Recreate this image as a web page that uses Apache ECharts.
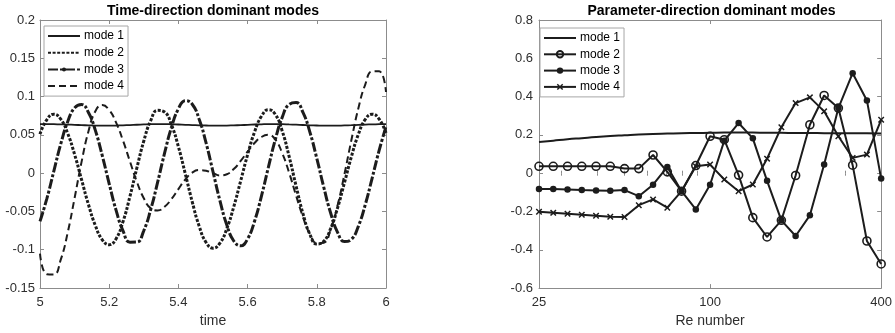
<!DOCTYPE html>
<html>
<head>
<meta charset="utf-8">
<script src="https://cdn.jsdelivr.net/npm/echarts@6/dist/echarts.min.js"></script>
<style>
html,body{margin:0;padding:0;background:#fff;}
#wrap{position:relative;width:895px;height:333px;overflow:hidden;}
#left{position:absolute;left:0;top:0;width:450px;height:333px;}
#right{position:absolute;left:450px;top:0;width:445px;height:333px;}
</style>
</head>
<body>
<div id="wrap"><div id="left"></div><div id="right"></div></div>
<script>
// ---------- Left panel: time-direction modes ----------
const leftTitle = 'Time-direction dominant modes';
const timeValues = [5.00,5.02,5.04,5.06,5.08,5.10,5.12,5.14,5.16,5.18,5.20,5.22,5.24,5.26,5.28,5.30,5.32,5.34,5.36,5.38,5.40,5.42,5.44,5.46,5.48,5.50,5.52,5.54,5.56,5.58,5.60,5.62,5.64,5.66,5.68,5.70,5.72,5.74,5.76,5.78,5.80,5.82,5.84,5.86,5.88,5.90,5.92,5.94,5.96,5.98,6.00];
const timeMode1 = [0.0640,0.0640,0.0639,0.0637,0.0634,0.0631,0.0627,0.0624,0.0621,0.0620,0.0620,0.0622,0.0625,0.0628,0.0632,0.0636,0.0639,0.0640,0.0640,0.0638,0.0635,0.0631,0.0628,0.0624,0.0622,0.0620,0.0620,0.0621,0.0624,0.0627,0.0631,0.0635,0.0638,0.0640,0.0640,0.0639,0.0636,0.0633,0.0629,0.0625,0.0622,0.0620,0.0620,0.0621,0.0623,0.0626,0.0630,0.0634,0.0637,0.0639,0.0640];
const timeMode2 = [0.051,0.070,0.077,0.0705,0.052,0.0244,-0.0083,-0.0409,-0.0685,-0.087,-0.0935,-0.0856,-0.0632,-0.0303,0.0069,0.042,0.0687,0.082,0.0798,0.063,0.0345,-0.001,-0.0375,-0.0692,-0.0905,-0.098,-0.0914,-0.0724,-0.0439,-0.0101,0.0241,0.0537,0.0742,0.0828,0.0768,0.0551,0.0218,-0.0166,-0.0528,-0.0799,-0.0925,-0.0891,-0.0725,-0.0454,-0.0123,0.0215,0.0505,0.0701,0.077,0.0707,0.0525];
const timeMode3 = [-0.063,-0.033,0.0027,0.0381,0.0671,0.0853,0.0897,0.0793,0.0558,0.0228,-0.0139,-0.0487,-0.0754,-0.0901,-0.090,-0.075,-0.0475,-0.0118,0.026,0.0598,0.084,0.0947,0.090,0.0705,0.0394,0.0018,-0.0359,-0.0678,-0.0886,-0.0949,-0.0859,-0.0629,-0.030,0.0076,0.0438,0.0728,0.0897,0.0921,0.0793,0.0536,0.0193,-0.0181,-0.0521,-0.0773,-0.0894,-0.0864,-0.0695,-0.0413,-0.0064,0.0294,0.0607];
const timeMode4 = [-0.105,-0.132,-0.1324,-0.113,-0.0777,-0.0325,0.0144,0.0545,0.0809,0.089,0.0825,0.066,0.0424,0.0152,-0.0113,-0.0328,-0.0459,-0.0488,-0.0439,-0.0338,-0.0208,-0.0083,0.0007,0.004,0.003,0.000,-0.003,-0.0014,0.0053,0.0159,0.0281,0.0393,0.0472,0.050,0.0438,0.0263,0.0006,-0.029,-0.0573,-0.0793,-0.0914,-0.0908,-0.0737,-0.0424,-0.0012,0.0432,0.0844,0.1157,0.1328,0.133,0.106];

// ---------- Right panel: parameter-direction modes ----------
const rightTitle = 'Parameter-direction dominant modes';
const reValues = [25,28.06,31.5,35.36,39.69,44.54,50,56.12,63,70.71,79.37,89.09,100,112.2,126,141.4,158.7,178.2,200,224.5,252,282.8,317.5,356.4,400];
const reMode1 = [0.163,0.170,0.177,0.183,0.189,0.194,0.198,0.202,0.205,0.207,0.209,0.210,0.211,0.212,0.212,0.212,0.211,0.211,0.210,0.210,0.209,0.209,0.208,0.208,0.207];
const reMode2 = [0.036,0.036,0.036,0.036,0.036,0.036,0.024,0.024,0.095,0.007,-0.094,0.040,0.193,0.175,-0.010,-0.232,-0.333,-0.246,-0.012,0.253,0.406,0.340,0.042,-0.354,-0.474];
const reMode3 = [-0.082,-0.083,-0.085,-0.088,-0.090,-0.092,-0.088,-0.120,-0.060,0.033,-0.094,-0.189,-0.060,0.170,0.262,0.182,-0.040,-0.246,-0.328,-0.220,0.045,0.340,0.522,0.380,-0.028];
const reMode4 = [-0.201,-0.207,-0.212,-0.217,-0.222,-0.227,-0.229,-0.167,-0.137,-0.180,-0.094,0.036,0.045,-0.033,-0.094,-0.059,0.076,0.240,0.366,0.396,0.323,0.193,0.080,0.097,0.279];
const reLabelTicks = [25,100,400];
const reMinorTicks = [30,40,50,60,70,80,90,200,300];
const seriesNames = ['mode 1','mode 2','mode 3','mode 4'];

const INK = '#1c1c1c';
const AX = '#8c8c8c';
const LBL = '#2e2e2e';
const FONT = '"Liberation Sans", Arial, Helvetica, sans-serif';

function pairs(xs, ys){ return xs.map((x,i)=>[x, ys[i]]); }

function valueAxis(extra){
  return Object.assign({
    type:'value',
    axisLine:{show:true,onZero:false,lineStyle:{color:AX,width:1}},
    axisTick:{show:true,inside:true,length:4,lineStyle:{color:AX}},
    axisLabel:{show:true,fontSize:13,color:LBL,fontFamily:FONT},
    splitLine:{show:false}
  }, extra);
}

function legendOpt(left, top, itemHeight, itemGap){
  return {
    orient:'vertical', left:left, top:top,
    itemWidth:32, itemHeight:itemHeight, itemGap:itemGap,
    padding:[4,4,4,3],
    backgroundColor:'#fff', borderColor:'#a6a6a6', borderWidth:1, borderRadius:0,
    textStyle:{fontSize:12,color:'#000',fontFamily:FONT,padding:[0,0,0,-1]},
    data:[{name:seriesNames[0],itemStyle:{opacity:0}},
          {name:seriesNames[1],itemStyle:{opacity:0}},
          seriesNames[2],
          {name:seriesNames[3],itemStyle:{opacity:0}}]
  };
}

// Left chart
const leftChart = echarts.init(document.getElementById('left'), null, {renderer:'canvas'});
leftChart.setOption({
  animation:false,
  graphic:[{type:'text',x:213,y:11,style:{text:leftTitle,font:'bold 14px ' + FONT,fill:'#000',align:'center',verticalAlign:'middle'}}],
  grid:{left:40,top:20,width:346,height:268},
  legend:legendOpt(44,26,5,4.7),
  xAxis:[
    valueAxis({min:5,max:6,interval:0.2,position:'bottom',
      axisLabel:{show:true,fontSize:13,color:LBL,fontFamily:FONT,margin:8},
      name:'time',nameLocation:'middle',nameGap:25,
      nameTextStyle:{fontSize:14,color:LBL,fontFamily:FONT}}),
    valueAxis({min:5,max:6,interval:0.2,position:'top',axisLabel:{show:false}})
  ],
  yAxis:[
    valueAxis({min:-0.15,max:0.2,interval:0.05,position:'left',
      axisLabel:{show:true,fontSize:13,color:LBL,fontFamily:FONT,margin:5}}),
    valueAxis({min:-0.15,max:0.2,interval:0.05,position:'right',axisLabel:{show:false}})
  ],
  series:[
    {name:seriesNames[0],type:'line',data:pairs(timeValues,timeMode1),symbol:'none',smooth:true,
      lineStyle:{color:INK,width:1.8},itemStyle:{color:INK}},
    {name:seriesNames[1],type:'line',data:pairs(timeValues,timeMode2),symbol:'none',smooth:true,
      lineStyle:{color:INK,width:3,type:[3,1.6]},itemStyle:{color:INK}},
    {name:seriesNames[2],type:'line',data:pairs(timeValues,timeMode3),symbol:'circle',symbolSize:4,showSymbol:false,smooth:true,
      lineStyle:{color:INK,width:3,type:[10,2,3,2]},itemStyle:{color:INK}},
    {name:seriesNames[3],type:'line',data:pairs(timeValues,timeMode4),symbol:'none',smooth:true,
      lineStyle:{color:INK,width:2,type:[7,4]},itemStyle:{color:INK}}
  ]
});

// Right chart
const XPATH = 'path://M1.6,0 L5,3.4 L8.4,0 L10,1.6 L6.6,5 L10,8.4 L8.4,10 L5,6.6 L1.6,10 L0,8.4 L3.4,5 L0,1.6 Z';
function logAxis(extra){
  return Object.assign({
    type:'log', logBase:10, min:25, max:400,
    axisLine:{show:true,onZero:false,lineStyle:{color:AX,width:1}},
    axisTick:{show:true,inside:true,length:4,lineStyle:{color:AX},customValues:reLabelTicks},
    axisLabel:{show:false},
    splitLine:{show:false}, minorTick:{show:false}, minorSplitLine:{show:false}
  }, extra);
}
const rightChart = echarts.init(document.getElementById('right'), null, {renderer:'canvas'});
const rightLegend = legendOpt(90,28,8,4.3);
rightLegend.data = [{name:seriesNames[0],itemStyle:{opacity:0}}, seriesNames[1], seriesNames[2], seriesNames[3]];
rightChart.setOption({
  animation:false,
  graphic:[{type:'text',x:261.5,y:11,style:{text:rightTitle,font:'bold 14px ' + FONT,fill:'#000',align:'center',verticalAlign:'middle'}}],
  grid:{left:89,top:20,width:345,height:269},
  legend:rightLegend,
  xAxis:[
    logAxis({position:'bottom',
      axisLabel:{show:true,fontSize:13,color:LBL,fontFamily:FONT,margin:8,customValues:reLabelTicks},
      name:'Re number',nameLocation:'middle',nameGap:25,
      nameTextStyle:{fontSize:14,color:LBL,fontFamily:FONT}}),
    logAxis({position:'top'}),
    logAxis({position:'bottom',axisLine:{show:false},
      axisTick:{show:true,inside:true,length:2.5,lineStyle:{color:AX},customValues:reMinorTicks}}),
    logAxis({position:'top',axisLine:{show:false},
      axisTick:{show:true,inside:true,length:2.5,lineStyle:{color:AX},customValues:reMinorTicks}})
  ],
  yAxis:[
    valueAxis({min:-0.6,max:0.8,interval:0.2,position:'left',
      axisLabel:{show:true,fontSize:13,color:LBL,fontFamily:FONT,margin:6}}),
    valueAxis({min:-0.6,max:0.8,interval:0.2,position:'right',axisLabel:{show:false}})
  ],
  series:[
    {name:seriesNames[0],type:'line',data:pairs(reValues,reMode1),symbol:'none',smooth:true,
      lineStyle:{color:INK,width:2},itemStyle:{color:INK}},
    {name:seriesNames[1],type:'line',data:pairs(reValues,reMode2),symbol:'circle',symbolSize:8,showAllSymbol:true,
      lineStyle:{color:INK,width:2},itemStyle:{color:'rgba(255,255,255,0)',borderColor:INK,borderWidth:1.6}},
    {name:seriesNames[2],type:'line',data:pairs(reValues,reMode3),symbol:'circle',symbolSize:6.5,showAllSymbol:true,
      lineStyle:{color:INK,width:2},itemStyle:{color:INK}},
    {name:seriesNames[3],type:'line',data:pairs(reValues,reMode4),symbol:XPATH,symbolSize:6.5,showAllSymbol:true,
      lineStyle:{color:INK,width:2},itemStyle:{color:INK}}
  ]
});
</script>
</body>
</html>
